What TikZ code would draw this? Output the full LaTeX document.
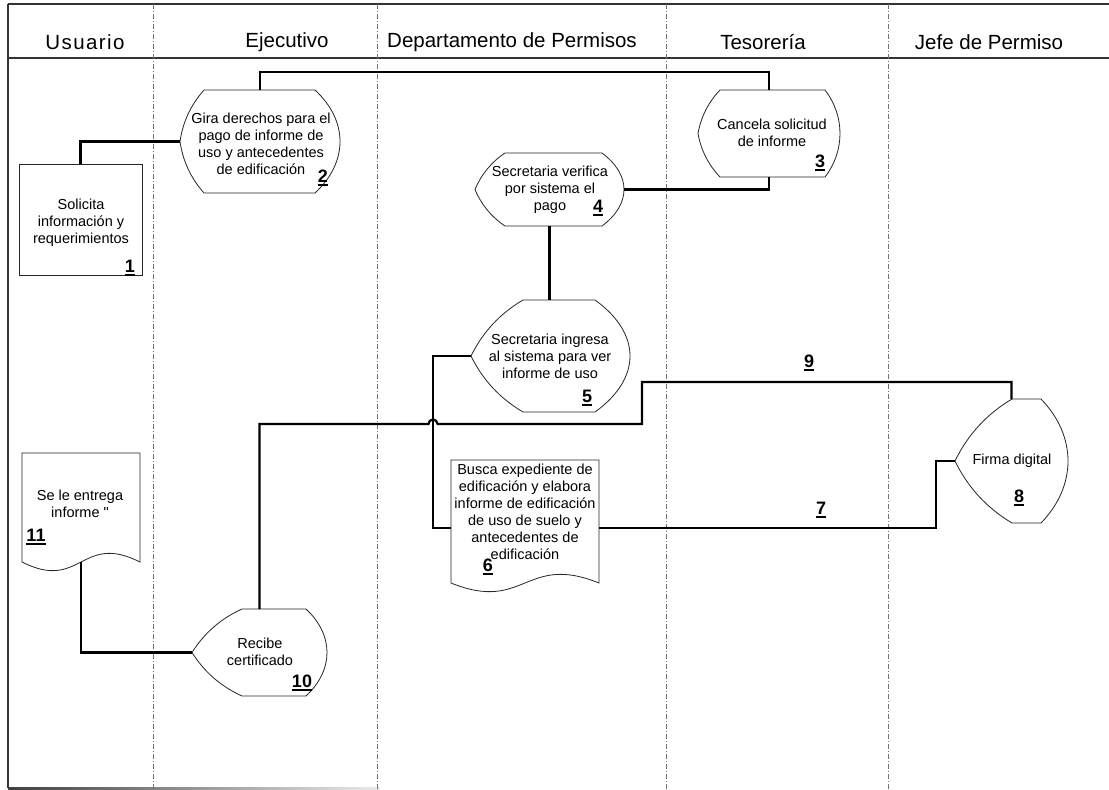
\documentclass[tikz,border=0pt]{standalone}
\usepackage{fontspec}
\setmainfont{Liberation Sans}[Ligatures=TeXOff]
\usetikzlibrary{calc}

% Flowchart "display" outline around a named box: #2 = depth of the pointed
% left part, #3 = bulge of the rounded right side (both in pt).
% The two left flanks are shallow outward arcs meeting at the tip.
\newcommand\dispoutline[3]{%
  \path (#1.north west); \pgfgetlastxy{\dxa}{\dya}%
  \path (#1.south east); \pgfgetlastxy{\dxb}{\dyb}%
  \pgfmathsetmacro\dh{\dya-\dyb}%
  \pgfmathsetmacro\hh{(\dya-\dyb)/2}%
  \pgfmathsetmacro\dm{(\dya+\dyb)/2}%
  \draw[outl] ({\dxa+#2pt},\dya) -- ({\dxb-#3pt},\dya)
    .. controls ({\dxb+#3pt/3},{\dya-0.3*\dh*1pt}) and ({\dxb+#3pt/3},{\dyb+0.3*\dh*1pt}) .. ({\dxb-#3pt},\dyb)
    -- ({\dxa+#2pt},\dyb)
    .. controls ({\dxa+2*#2pt/3-0.1*\hh*1pt},{\dm*1pt-2*\hh*1pt/3-0.1*#2pt})
       and ({\dxa+#2pt/3-0.1*\hh*1pt},{\dm*1pt-\hh*1pt/3-0.1*#2pt}) .. (\dxa,{\dm*1pt})
    .. controls ({\dxa+#2pt/3-0.1*\hh*1pt},{\dm*1pt+\hh*1pt/3+0.1*#2pt})
       and ({\dxa+2*#2pt/3-0.1*\hh*1pt},{\dm*1pt+2*\hh*1pt/3+0.1*#2pt}) .. cycle;
}
% Flowchart "document" outline: straight top and sides, wavy bottom
\newcommand\docoutline[2]{%
  \path (#1.north west); \pgfgetlastxy{\dxa}{\dya}%
  \path (#1.south east); \pgfgetlastxy{\dxb}{\dyb}%
  \pgfmathsetmacro\dc{(\dxa+\dxb)/2}%
  \draw[outl] (\dxa,\dyb) -- (\dxa,\dya) -- (\dxb,\dya) -- (\dxb,\dyb)
    .. controls ({\dc*1pt},{\dyb+#2pt}) and ({\dc*1pt},{\dyb-#2pt}) .. cycle;
}
% bold step number with a heavy underline
\newcommand\stepno[1]{\setbox0\hbox{#1}\leavevmode\rlap{\rule[-2.8pt]{\wd0}{1.8pt}}\box0}

\begin{document}
\begin{tikzpicture}[x=1pt,y=-1pt,
  conn/.style={line width=2.2pt, black},
  outl/.style={line width=0.8pt, black!85},
  lane/.style={black!55, line width=0.6pt, dash pattern=on 5pt off 2pt on 1pt off 2pt},
  frame/.style={line width=1.2pt, black!80},
  shapebox/.style={inner sep=0pt, outer sep=0pt},
  txt/.style={align=center, inner sep=0pt, font=\fontsize{14.5}{17}\selectfont},
  num/.style={inner sep=0pt, font=\fontsize{18}{18}\selectfont\bfseries},
  head/.style={inner sep=0pt, font=\fontsize{20.5}{24}\selectfont}]

\useasboundingbox (0,0) rectangle (1109,790);
\fill[white] (0,0) rectangle (1109,790);

% frame and header band
\draw[frame] (8,4) -- (1109,4);
\draw[frame] (8,58) -- (1109,58);
\draw[frame] (8,4) -- (8,788);
\shade[left color=black!75, right color=black!8] (8,787) rectangle (380,789);

% lane separators
\foreach \lx in {153,377,666,888}
  \draw[lane] (\lx,4) -- (\lx,790);

% lane titles
\node[head] (h1) at (85,42) {\addfontfeature{LetterSpace=7}Usuario};
\node[head] (h2) at (287,42) {Ejecutivo};
\node[head] (h3) at (512,42) {Departamento de Permisos};
\node[head] (h4) at (763,42) {Tesorería};
\node[head] (h5) at (989,42) {Jefe de Permiso};

% process boxes
\node[shapebox, draw=black!85, line width=0.8pt, minimum width=123pt, minimum height=111pt] (n1) at (80.5,219.5) {};
\node[shapebox, minimum width=160pt, minimum height=103pt] (n2) at (260,141.5) {};
\node[shapebox, minimum width=142pt, minimum height=87pt] (n3) at (769,133.5) {};
\node[shapebox, minimum width=149pt, minimum height=73pt] (n4) at (549.5,189.5) {};
\node[shapebox, minimum width=159pt, minimum height=112pt] (n5) at (550.5,356) {};
\node[shapebox, minimum width=148pt, minimum height=123pt] (n6) at (525,521.5) {};
\node[shapebox, minimum width=113pt, minimum height=124pt] (n8) at (1011.5,461) {};
\node[shapebox, minimum width=135pt, minimum height=87pt] (n10) at (259.5,652.5) {};
\node[shapebox, minimum width=118pt, minimum height=109pt] (n11) at (81,507.5) {};

\dispoutline{n2}{24}{25}
\dispoutline{n3}{22}{15}
\dispoutline{n4}{30}{22}
\dispoutline{n5}{52}{35}
\dispoutline{n8}{57}{27}
\dispoutline{n10}{50}{21}
\docoutline{n6}{30}
\docoutline{n11}{30}

% texts
\node[txt] (t1) at (81,223) {Solicita\\información y\\requerimientos};
\node[txt] (t2) at (261,144) {Gira derechos para el\\pago de informe de\\uso y antecedentes\\de edificación};
\node[txt] (t3) at (772,133) {Cancela solicitud\\de informe};
\node[txt] (t4) at (550,190) {Secretaria verifica\\por sistema el\\pago};
\node[txt] (t5) at (550,356) {Secretaria ingresa\\al sistema para ver\\informe de uso};
\node[txt] (t6) at (525,512) {Busca expediente de\\edificación y elabora\\informe de edificación\\de uso de suelo y\\antecedentes de\\edificación};
\node[txt] (t8) at (1012,461) {Firma digital};
\node[txt] (t10) at (260,652) {Recibe\\certificado};
\node[txt] (t11) at (80,503.5) {Se le entrega\\informe "};

% step numbers
\node[num] (k1) at (130,268) {\stepno{1}};
\node[num] (k2) at (323,178) {\stepno{2}};
\node[num] (k3) at (820,163) {\stepno{3}};
\node[num] (k4) at (598,208) {\stepno{4}};
\node[num] (k5) at (587,398) {\stepno{5}};
\node[num] (k6) at (488,567) {\stepno{6}};
\node[num] (k7) at (821,510) {\stepno{7}};
\node[num] (k8) at (1019,498) {\stepno{8}};
\node[num] (k9) at (809,363) {\stepno{9}};
\node[num] (k10) at (302,683) {\stepno{10}};
\node[num] (k11) at (36,537) {\stepno{11}};

% connectors
\coordinate (n6w) at ([yshift=-6.5pt]n6.west);
\coordinate (n6e) at ([yshift=-6.5pt]n6.east);
\draw[conn] (n1.north) |- (n2.west);
\draw[conn] (n2.north) -- ++(0,-18) -| (n3.north);
\draw[conn] (n3.south) |- (n4.east);
\draw[conn] (n4.south) -- (n4.south |- n5.north);
\draw[conn] (n5.west) -- ++(-38,0) |- (n6w);
\draw[conn] (n6e) -| ($(n8.west)+(-19,0)$) -- (n8.west);
\draw[conn] (n8.north) -- ++(0,-17) -| (642,424) -- (437.5,424)
  arc[start angle=0, end angle=180, radius=4.5pt] -| (n10.north);
\draw[conn] (n11.south) |- (n10.west);
\end{tikzpicture}
\end{document}
